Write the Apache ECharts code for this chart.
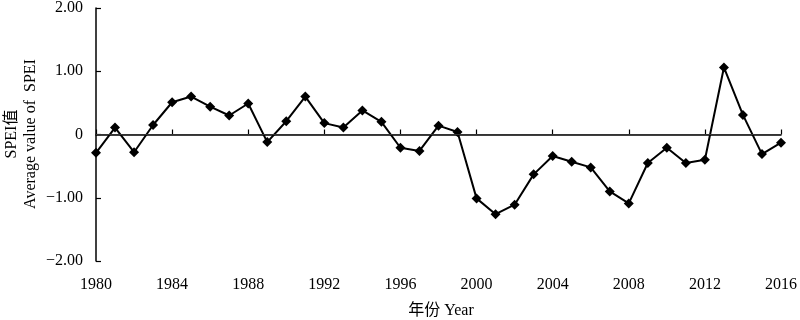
<!DOCTYPE html>
<html>
<head>
<meta charset="utf-8">
<script src="https://cdn.jsdelivr.net/npm/echarts@6/dist/echarts.min.js"></script>
<style>html,body{margin:0;padding:0;background:#fff;}#c{width:800px;height:320px;}</style>
</head>
<body>
<div id="c"></div>
<script>
var years = [1980,1981,1982,1983,1984,1985,1986,1987,1988,1989,1990,1991,1992,1993,1994,1995,1996,1997,1998,1999,2000,2001,2002,2003,2004,2005,2006,2007,2008,2009,2010,2011,2012,2013,2014,2015,2016];
var spei = [-0.29,0.11,-0.28,0.15,0.51,0.60,0.44,0.30,0.49,-0.12,0.21,0.60,0.18,0.11,0.38,0.20,-0.21,-0.26,0.14,0.04,-1.01,-1.26,-1.11,-0.63,-0.34,-0.43,-0.52,-0.90,-1.09,-0.45,-0.21,-0.45,-0.40,1.06,0.31,-0.31,-0.13];
var yTicks = [-2, -1, 0, 1, 2];
var xTitle = '年份 Year';
var yTitle1 = 'SPEI值';
var yTitle2 = 'Average value of  SPEI';

var FONT = "'Liberation Serif', 'Noto Sans CJK SC', serif";
var chart = echarts.init(document.getElementById('c'), null, {renderer: 'canvas'});
var pts = years.map(function (y, i) { return [y, spei[i]]; });
chart.setOption({
  animation: false,
  backgroundColor: '#fff',
  grid: {left: 96, right: 14, top: 6, bottom: 59, containLabel: false},
  xAxis: {
    type: 'value', min: 1980, max: 2016, interval: 4,
    axisLine: {show: true, lineStyle: {color: '#000', width: 1.5}},
    axisTick: {show: true, inside: true, length: 5, lineStyle: {color: '#000', width: 1.2}},
    axisLabel: {color: '#000', fontFamily: FONT, fontSize: 16, margin: 16, formatter: function (v) { return String(v); }},
    splitLine: {show: false}
  },
  yAxis: {
    type: 'value', min: yTicks[0], max: yTicks[yTicks.length - 1], interval: 1,
    axisLine: {show: true, lineStyle: {color: '#000', width: 1.5}},
    axisTick: {show: true, inside: true, length: 5, lineStyle: {color: '#000', width: 1.2}},
    axisLabel: {color: '#000', fontFamily: FONT, fontSize: 16, margin: 13,
      formatter: function (v) { if (v === 0) return '0'; return (v < 0 ? '\u2212' : '') + Math.abs(v).toFixed(2); }},
    splitLine: {show: false}
  },
  graphic: [
    {type: 'text', x: 441, y: 311, style: {text: xTitle, font: "16px " + FONT, fill: '#000', textAlign: 'center', textVerticalAlign: 'middle'}},
    {type: 'text', x: 12, y: 134, rotation: Math.PI / 2, style: {text: yTitle1, font: "16px " + FONT, fill: '#000', textAlign: 'center', textVerticalAlign: 'middle'}},
    {type: 'text', x: 31, y: 134, rotation: Math.PI / 2, style: {text: yTitle2, font: "16px " + FONT, fill: '#000', textAlign: 'center', textVerticalAlign: 'middle'}}
  ],
  series: [{
    type: 'line',
    data: pts,
    symbol: 'diamond',
    symbolSize: 10,
    itemStyle: {color: '#000'},
    lineStyle: {color: '#000', width: 2},
    markLine: {
      silent: true, symbol: 'none', label: {show: false},
      lineStyle: {color: '#333', width: 1.2, type: 'solid'},
      data: [{yAxis: 0}]
    }
  }]
});
</script>
</body>
</html>
